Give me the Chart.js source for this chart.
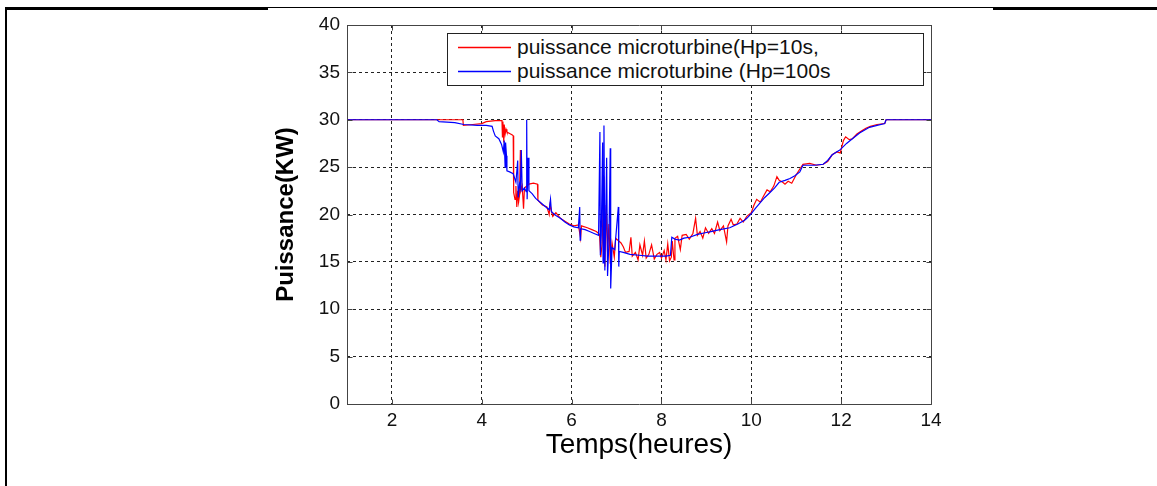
<!DOCTYPE html>
<html>
<head>
<meta charset="utf-8">
<script src="https://cdn.jsdelivr.net/npm/chart.js@4.4.1/dist/chart.umd.min.js"></script>
<style>
  html,body{margin:0;padding:0;background:#fff;}
  #wrap{position:relative;width:1157px;height:486px;overflow:hidden;}
  canvas{position:absolute;left:0;top:0;}
  .frame{position:absolute;background:#000;}
  #legend{position:absolute;left:447px;top:33px;width:475px;height:51px;border:1px solid #222;background:#fff;
    font-family:"Liberation Sans",Arial,sans-serif;font-size:21px;color:#111;}
  .row{position:absolute;left:0;height:24px;line-height:24px;white-space:nowrap;}
  .tx{position:absolute;left:69px;top:0;}
</style>
</head>
<body>
<div id="wrap">
  <canvas id="c" width="1157" height="486"></canvas>
  <div class="frame" style="left:5px;top:7px;width:2px;height:479px;"></div>
  <div class="frame" style="left:5px;top:7px;width:263px;height:3px;"></div>
  <div class="frame" style="left:268px;top:7px;width:725px;height:1px;"></div>
  <div class="frame" style="left:993px;top:7px;width:164px;height:3px;"></div>
  <div id="legend">
    <div class="row" style="top:1px;"><svg width="64" height="24" style="position:absolute;left:0;top:0"><line x1="10" y1="12.5" x2="63" y2="12.5" stroke="#ff0000" stroke-width="1.3"/></svg><div class="tx" id="l0"></div></div>
    <div class="row" style="top:25px;"><svg width="64" height="24" style="position:absolute;left:0;top:0"><line x1="10" y1="12.5" x2="63" y2="12.5" stroke="#0000ff" stroke-width="1.3"/></svg><div class="tx" id="l1"></div></div>
  </div>
</div>
<script>
// ---------- data ----------
const seriesNames = ["puissance microturbine(Hp=10s,", "puissance microturbine (Hp=100s"];
const xTickValues = [2, 4, 6, 8, 10, 12, 14];
const yTickValues = [0, 5, 10, 15, 20, 25, 30, 35, 40];
const xTitle = "Temps(heures)";
const yTitle = "Puissance(KW)";

// Hp = 10 s (red)
const redT = [1.00,3.00,3.58,3.59,3.80,4.00,4.10,4.30,4.45,4.46,4.47,4.49,4.50,4.52,4.54,4.56,4.60,4.68,4.70,4.71,4.74,4.76,4.78,4.80,4.82,4.84,4.86,4.87,4.90,4.93,4.95,5.00,5.05,5.15,5.24,5.25,5.35,5.45,5.50,5.52,5.58,5.65,5.75,5.85,5.95,6.05,6.15,6.20,6.22,6.35,6.45,6.55,6.62,6.65,6.68,6.72,6.74,6.77,6.80,6.83,6.86,6.90,6.95,6.98,7.05,7.10,7.15,7.20,7.28,7.32,7.35,7.42,7.48,7.52,7.58,7.62,7.66,7.72,7.78,7.84,7.90,7.96,8.00,8.06,8.10,8.14,8.18,8.22,8.24,8.28,8.30,8.36,8.42,8.46,8.55,8.62,8.70,8.76,8.80,8.86,8.92,8.98,9.05,9.12,9.18,9.25,9.30,9.38,9.45,9.48,9.55,9.60,9.68,9.75,9.82,9.90,10.00,10.06,10.12,10.20,10.28,10.35,10.42,10.50,10.57,10.62,10.70,10.75,10.82,10.90,11.00,11.08,11.15,11.30,11.45,11.60,11.70,11.80,11.90,11.98,12.05,12.10,12.18,12.25,12.35,12.45,12.55,12.65,12.80,12.97,13.00,14.00];
const redP = [30,30,30,29.4,29.5,29.6,29.8,29.9,29.9,28.2,29.8,27.6,29.5,28.5,29.0,28.7,28.6,28.4,28.3,22.3,21.6,23.0,20.8,22.5,21.3,22.0,26.8,22.5,23.0,20.6,22.8,23.0,23.2,23.3,23.2,21.5,21.0,20.8,20.0,21.0,19.8,20.2,19.6,19.3,19.0,18.8,18.9,17.5,18.8,18.6,18.4,18.2,17.9,15.5,17.0,24.0,14.5,21.0,16.0,19.0,14.8,17.0,15.5,17.5,17.2,17.0,16.6,16.0,16.1,17.6,15.6,16.0,15.2,16.8,15.7,17.2,15.4,15.8,16.8,15.3,15.8,16.0,15.4,16.2,15.2,16.9,15.1,15.5,17.2,15.2,17.5,17.7,16.3,17.8,17.9,17.4,18.0,19.6,17.8,18.2,17.5,18.6,18.0,18.5,18.0,19.2,18.3,18.8,17.1,18.8,19.5,18.9,19.0,19.6,19.2,19.8,20.2,21.0,21.6,21.3,22.0,22.6,22.4,23.0,24.0,23.6,23.4,23.2,23.5,23.3,24.2,24.8,25.3,25.4,25.2,25.3,25.6,26.3,26.6,26.5,27.8,28.2,27.9,28.0,28.5,28.8,29.1,29.3,29.5,29.6,30,30];

// Hp = 100 s (blue)
const blueT = [1.00,3.00,3.05,3.40,3.60,3.90,4.10,4.23,4.26,4.30,4.38,4.44,4.48,4.50,4.52,4.53,4.55,4.56,4.62,4.70,4.76,4.80,4.81,4.84,4.86,4.88,4.90,4.95,4.99,5.00,5.01,5.03,5.05,5.12,5.20,5.30,5.40,5.50,5.53,5.55,5.65,5.75,5.85,5.95,6.05,6.15,6.18,6.19,6.20,6.30,6.40,6.50,6.60,6.63,6.64,6.66,6.69,6.70,6.72,6.74,6.76,6.78,6.80,6.83,6.86,6.87,6.90,6.96,7.04,7.05,7.06,7.15,7.30,7.50,7.70,7.90,8.10,8.20,8.23,8.30,8.40,8.50,8.63,8.80,9.00,9.10,9.30,9.52,9.70,9.85,9.90,10.00,10.10,10.19,10.30,10.41,10.52,10.62,10.75,10.86,10.97,11.08,11.15,11.40,11.60,11.70,11.80,11.97,12.12,12.25,12.41,12.63,12.80,12.97,13.00,14.00];
const blueP = [30,30,29.8,29.7,29.5,29.4,29.4,29.3,28.8,28.3,28.0,27.4,26.6,27.8,25.0,27.6,26.2,24.6,24.5,24.3,23.4,25.7,21.8,23.2,22.8,26.8,22.5,22.8,22.4,30.0,21.6,26.0,22.5,22.2,21.7,21.3,20.9,20.5,21.6,20.3,19.9,19.6,19.2,18.9,18.7,18.6,20.8,17.3,18.5,18.4,18.2,18.0,17.8,28.7,15.7,17.8,27.6,14.9,29.4,14.1,20.0,26.0,13.5,17.0,27.0,12.2,16.5,16.3,20.8,14.5,16.1,16.0,15.8,15.7,15.6,15.6,15.6,15.7,17.6,17.4,17.3,17.5,17.6,17.9,18.1,18.2,18.4,18.6,19.0,19.4,19.6,20.1,20.7,21.2,21.8,22.3,22.8,23.4,23.6,23.8,24.1,24.5,25.2,25.2,25.3,25.7,26.3,26.8,27.5,28.0,28.6,29.2,29.4,29.6,30,30];

// ---------- chart ----------
document.getElementById('l0').textContent = seriesNames[0];
document.getElementById('l1').textContent = seriesNames[1];

const FONT = '"Liberation Sans", Arial, sans-serif';
const toPts = (t, p) => t.map((v, i) => ({x: v, y: p[i]}));

const boxPlugin = {
  id: 'box',
  afterDraw(chart) {
    const {ctx, chartArea: a, scales} = chart;
    ctx.save();
    ctx.strokeStyle = '#444';
    ctx.lineWidth = 1;
    ctx.beginPath();
    const L = Math.round(a.left) + 0.5, R = Math.round(a.right) + 0.5;
    const T = Math.round(a.top) + 0.5, B = Math.round(a.bottom) + 0.5;
    ctx.rect(L, T, R - L, B - T);
    const len = 5;
    xTickValues.forEach(v => {
      const x = Math.round(scales.x.getPixelForValue(v)) + 0.5;
      ctx.moveTo(x, B); ctx.lineTo(x, B - len);
      ctx.moveTo(x, T); ctx.lineTo(x, T + len);
    });
    yTickValues.forEach(v => {
      const y = Math.round(scales.y.getPixelForValue(v)) + 0.5;
      ctx.moveTo(L, y); ctx.lineTo(L + len, y);
      ctx.moveTo(R, y); ctx.lineTo(R - len, y);
    });
    ctx.stroke();
    ctx.restore();
  }
};

new Chart(document.getElementById('c'), {
  type: 'line',
  data: {
    datasets: [
      {label: seriesNames[1], data: toPts(blueT, blueP), borderColor: '#0000ff', borderWidth: 1.2, pointRadius: 0, tension: 0, fill: false},
      {label: seriesNames[0], data: toPts(redT, redP), borderColor: '#ff0000', borderWidth: 1.2, pointRadius: 0, tension: 0, fill: false}
    ]
  },
  options: {
    responsive: false,
    animation: false,
    devicePixelRatio: 1,
    layout: {padding: {left: 265, right: 226, top: 25, bottom: 0}},
    plugins: {legend: {display: false}, tooltip: {enabled: false}},
    scales: {
      x: {
        type: 'linear', min: 1, max: 14,
        afterBuildTicks: s => { s.ticks = xTickValues.map(v => ({value: v})); },
        afterFit: s => { s.height = 82; },
        grid: {color: '#222', lineWidth: 1, drawTicks: false},
        border: {display: false, dash: [3, 3]},
        ticks: {font: {family: FONT, size: 19}, color: '#111', padding: 5, maxRotation: 0, autoSkip: false},
        title: {display: true, text: xTitle, font: {family: FONT, size: 28}, color: '#000', padding: {top: 0, bottom: 24}}
      },
      y: {
        type: 'linear', min: 0, max: 40,
        afterBuildTicks: s => { s.ticks = yTickValues.map(v => ({value: v})); },
        afterFit: s => { s.width = 82; },
        grid: {color: '#222', lineWidth: 1, drawTicks: false},
        border: {display: false, dash: [3, 3]},
        ticks: {font: {family: FONT, size: 19}, color: '#111', padding: 7},
        title: {display: true, text: yTitle, font: {family: FONT, size: 24, weight: 'bold'}, color: '#000', padding: {top: 7, bottom: 0}}
      }
    }
  },
  plugins: [boxPlugin]
});
</script>
</body>
</html>
